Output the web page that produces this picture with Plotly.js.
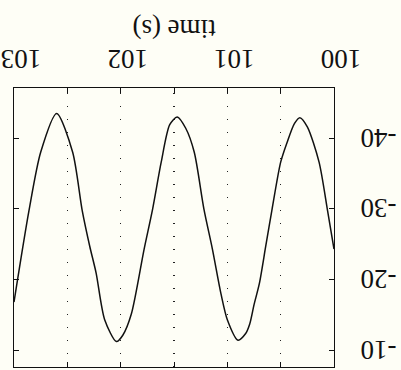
<!DOCTYPE html>
<html>
<head>
<meta charset="utf-8">
<script src="https://cdn.plot.ly/plotly-3.0.1.min.js"></script>
<style>
  html, body { margin: 0; padding: 0; background: #fefef6; overflow: hidden; }
  #plot { width: 401px; height: 370px; transform: rotate(180deg); transform-origin: 50% 50%; }
</style>
</head>
<body>
<div id="plot"></div>
<script>
const timeS = [100.0, 100.06, 100.14, 100.25, 100.32, 100.37, 100.44, 100.50, 100.58, 100.64,
               100.70, 100.75, 100.79, 100.83, 100.90, 101.00, 101.06, 101.14, 101.22, 101.31,
               101.39, 101.47, 101.54, 101.62, 101.70, 101.78, 101.90, 101.98, 102.04, 102.15,
               102.23, 102.29, 102.36, 102.45, 102.60, 102.75, 102.86, 103.0];
const signal = [-24.3, -29.7, -36.6, -41.6, -42.9, -42.1, -39.4, -36.6, -30.0, -24.7,
                -19.4, -16.4, -13.7, -12.3, -11.4, -14.3, -18.0, -24.3, -30.0, -38.0,
                -41.4, -43.0, -41.9, -36.6, -30.0, -24.3, -15.1, -12.1, -11.2, -14.3,
                -20.9, -24.7, -29.7, -38.0, -43.5, -38.0, -29.7, -16.8];
const xTickVals = [100, 100.5, 101, 101.5, 102, 102.5, 103];
const xTickText = ['100', '', '101', '', '102', '', '103'];
const yTickVals = [-40, -30, -20, -10];
const yTickText = ['-40', '-30', '-20', '-10'];
const xTitle = 'time (s)';

const serif = 'Liberation Serif, Times New Roman, serif';

const trace = {
  x: timeS, y: signal, type: 'scatter', mode: 'lines',
  line: { color: '#111', width: 1.5, shape: 'spline', smoothing: 0.75 },
  hoverinfo: 'skip'
};

const layout = {
  width: 401, height: 370,
  margin: { l: 67, r: 14, t: 3, b: 88 },
  paper_bgcolor: '#fefef6', plot_bgcolor: '#fefef6',
  showlegend: false,
  font: { family: serif, size: 27, color: '#111' },
  xaxis: {
    range: [100, 103],
    tickmode: 'array', tickvals: xTickVals, ticktext: xTickText,
    ticks: 'inside', ticklen: 5, tickcolor: '#111', tickwidth: 1,
    showline: true, mirror: 'ticks', linecolor: '#111', linewidth: 1.2,
    showgrid: true, gridcolor: '#222', gridwidth: 1.4, griddash: '1.5px,11.5px',
    zeroline: false,
    ticklabeloverflow: 'allow',
    ticklabelshift: -7,
    ticklabelstandoff: 4,
    tickfont: { family: serif, size: 27, color: '#111' },
    title: { text: xTitle, font: { family: serif, size: 27, color: '#111' }, standoff: 0 }
  },
  yaxis: {
    range: [-47.1, -7.6],
    tickmode: 'array', tickvals: yTickVals, ticktext: yTickText,
    ticks: 'inside', ticklen: 5, tickcolor: '#111', tickwidth: 1,
    showline: true, mirror: 'ticks', linecolor: '#111', linewidth: 1.2,
    showgrid: false, zeroline: false,
    ticklabeloverflow: 'allow',
    ticklabelstandoff: 20,
    tickfont: { family: serif, size: 27, color: '#111' }
  }
};

Plotly.newPlot('plot', [trace], layout, { staticPlot: true, displayModeBar: false });
</script>
</body>
</html>
